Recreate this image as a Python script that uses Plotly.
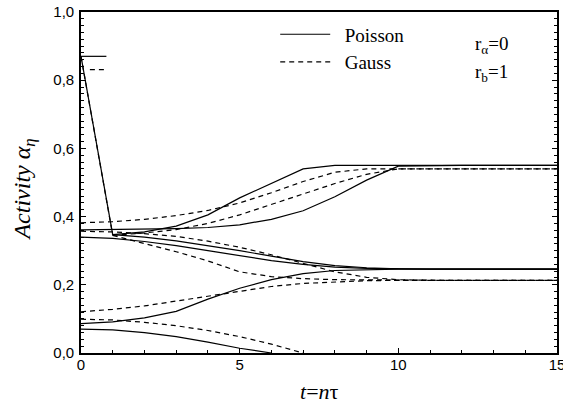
import plotly.graph_objects as go

# ---------------- data (t = n*tau, activity alpha_eta) ----------------
# Poisson (solid)
p_drop_t = [0, 1]
p_drop = [0.870, 0.347]
p_fast_t = [1, 2, 3, 4, 5, 6, 7, 8, 9, 10, 11, 12, 13, 14, 15]
p_fast = [0.347, 0.355, 0.372, 0.405, 0.455, 0.497, 0.540, 0.550, 0.550, 0.550, 0.550, 0.550, 0.550, 0.550, 0.550]
p_slow_t = [0, 1, 2, 3, 4, 5, 6, 7, 8, 9, 10, 11, 12, 13, 14, 15]
p_slow = [0.361, 0.362, 0.363, 0.365, 0.368, 0.376, 0.392, 0.417, 0.458, 0.507, 0.548, 0.550, 0.550, 0.550, 0.550, 0.550]
p_desc1_t = [1, 2, 3, 4, 5, 6, 7, 8, 9, 10, 11, 12, 13, 14, 15]
p_desc1 = [0.347, 0.340, 0.329, 0.315, 0.300, 0.284, 0.268, 0.256, 0.250, 0.247, 0.246, 0.246, 0.246, 0.246, 0.246]
p_desc2_t = [0, 1, 2, 3, 4, 5, 6, 7, 8, 9, 10, 11, 12, 13, 14, 15]
p_desc2 = [0.340, 0.336, 0.327, 0.315, 0.300, 0.285, 0.271, 0.260, 0.252, 0.248, 0.246, 0.246, 0.246, 0.246, 0.246, 0.246]
p_rise_t = [0, 1, 2, 3, 4, 5, 6, 7, 8, 9, 10, 11, 12, 13, 14, 15]
p_rise = [0.086, 0.091, 0.103, 0.122, 0.158, 0.190, 0.215, 0.233, 0.242, 0.245, 0.246, 0.246, 0.246, 0.246, 0.246, 0.246]
p_zero_t = [0, 1, 2, 3, 4, 5, 6]
p_zero = [0.070, 0.068, 0.060, 0.048, 0.032, 0.014, 0.000]
p_init_t = [0, 0.8]
p_init = [0.870, 0.870]

# Gauss (dashed)
g_drop_t = [0, 1]
g_drop = [0.870, 0.345]
g_rise1_t = [0, 1, 2, 3, 4, 5, 6, 7, 8, 9, 10, 11, 12, 13, 14, 15]
g_rise1 = [0.382, 0.385, 0.392, 0.403, 0.418, 0.440, 0.470, 0.503, 0.530, 0.540, 0.540, 0.540, 0.540, 0.540, 0.540, 0.540]
g_rise2_t = [1, 2, 3, 4, 5, 6, 7, 8, 9, 10, 11, 12, 13, 14, 15]
g_rise2 = [0.345, 0.352, 0.362, 0.380, 0.405, 0.435, 0.467, 0.497, 0.524, 0.540, 0.540, 0.540, 0.540, 0.540, 0.540]
g_desc1_t = [1, 2, 3, 4, 5, 6, 7, 8, 9, 10, 11, 12, 13, 14, 15]
g_desc1 = [0.345, 0.322, 0.297, 0.270, 0.238, 0.224, 0.218, 0.215, 0.214, 0.213, 0.213, 0.213, 0.213, 0.213, 0.213]
g_desc2_t = [0, 1, 2, 3, 4, 5, 6, 7, 8, 9, 10, 11, 12, 13, 14, 15]
g_desc2 = [0.357, 0.355, 0.350, 0.342, 0.328, 0.310, 0.288, 0.262, 0.238, 0.222, 0.215, 0.213, 0.213, 0.213, 0.213, 0.213]
g_rise3_t = [0, 1, 2, 3, 4, 5, 6, 7, 8, 9, 10, 11, 12, 13, 14, 15]
g_rise3 = [0.121, 0.128, 0.138, 0.152, 0.167, 0.182, 0.195, 0.204, 0.209, 0.212, 0.213, 0.213, 0.213, 0.213, 0.213, 0.213]
g_zero_t = [0, 1, 2, 3, 4, 5, 6, 7]
g_zero = [0.099, 0.097, 0.090, 0.080, 0.066, 0.048, 0.026, 0.000]
g_init_t = [0.28, 0.75]
g_init = [0.831, 0.831]

x_ticks = [0, 5, 10, 15]
x_ticklabels = ["0", "5", "10", "15"]
y_ticks = [0.0, 0.2, 0.4, 0.6, 0.8, 1.0]
y_ticklabels = ["0,0", "0,2", "0,4", "0,6", "0,8", "1,0"]

# ---------------- figure ----------------
SOLID = dict(color="black", width=1.2)
DASHED = dict(color="black", width=1.2, dash="5px,4px")

fig = go.Figure()

poisson = [(p_drop_t, p_drop), (p_fast_t, p_fast), (p_slow_t, p_slow),
           (p_desc1_t, p_desc1), (p_desc2_t, p_desc2), (p_rise_t, p_rise),
           (p_zero_t, p_zero), (p_init_t, p_init)]
gauss = [(g_drop_t, g_drop), (g_rise1_t, g_rise1), (g_rise2_t, g_rise2),
         (g_desc1_t, g_desc1), (g_desc2_t, g_desc2), (g_rise3_t, g_rise3),
         (g_zero_t, g_zero), (g_init_t, g_init)]

for i, (t, v) in enumerate(poisson):
    fig.add_trace(go.Scatter(x=t, y=v, mode="lines", line=SOLID, name="\u2002Poisson",
                             legendgroup="p", showlegend=(i == 0), hoverinfo="skip"))
for i, (t, v) in enumerate(gauss):
    fig.add_trace(go.Scatter(x=t, y=v, mode="lines", line=DASHED, name="\u2002Gauss",
                             legendgroup="g", showlegend=(i == 0), hoverinfo="skip"))

tickfont = dict(family="Liberation Sans, Arial, sans-serif", size=15, color="black")
serif = "Liberation Serif, Times New Roman, serif"

fig.update_layout(
    width=563, height=403,
    margin=dict(l=81, r=6, t=12, b=49.5, autoexpand=False),
    paper_bgcolor="white", plot_bgcolor="white",
    showlegend=True,
    legend=dict(x=0.408, y=0.99, xanchor="left", yanchor="top", itemwidth=50,
                bgcolor="rgba(0,0,0,0)", font=dict(family=serif, size=19, color="black"),
                tracegroupgap=0, traceorder="grouped"),
    xaxis=dict(range=[0, 15], tickmode="array", tickvals=x_ticks, ticktext=x_ticklabels,
               ticks="inside", ticklen=5, tickwidth=1, tickcolor="black",
               minor=dict(dtick=1, tick0=0, ticks="inside", ticklen=3, tickcolor="black", showgrid=False),
               showline=True, linewidth=1.6, linecolor="black", mirror=True,
               showgrid=False, zeroline=False, tickfont=tickfont,
               ticklabeloverflow="allow", ticklabelstandoff=-3, automargin=False),
    yaxis=dict(range=[0, 1], tickmode="array", tickvals=y_ticks, ticktext=y_ticklabels,
               ticks="inside", ticklen=5, tickwidth=1, tickcolor="black",
               minor=dict(dtick=0.02, tick0=0, ticks="inside", ticklen=3, tickcolor="black", showgrid=False),
               showline=True, linewidth=1.6, linecolor="black", mirror="ticks",
               showgrid=False, zeroline=False, tickfont=tickfont,
               ticklabeloverflow="allow", ticklabelstandoff=2, automargin=False),
    annotations=[
        dict(x=-0.12, y=0.479, xref="paper", yref="paper", xanchor="center", yanchor="middle",
             textangle=-90, text="<i>Activity α<sub>η</sub></i>", showarrow=False,
             font=dict(family=serif, size=24, color="black")),
        dict(x=0.5, y=-0.112, xref="paper", yref="paper", xanchor="center", yanchor="middle",
             text="<i>t</i>=<i>n</i>τ", showarrow=False,
             font=dict(family=serif, size=22, color="black")),
        dict(x=0.824, y=0.903, xref="paper", yref="paper", xanchor="left", yanchor="middle",
             text="r<sub>α</sub>=0", showarrow=False, font=dict(family=serif, size=19, color="black")),
        dict(x=0.824, y=0.821, xref="paper", yref="paper", xanchor="left", yanchor="middle",
             text="r<sub>b</sub>=1", showarrow=False, font=dict(family=serif, size=19, color="black")),
    ],
)

# remove the default 8px page margin so the figure fills the window exactly
fig.write_html("out.html", config={"displayModeBar": False},
               post_script="document.body.style.margin='0';")
